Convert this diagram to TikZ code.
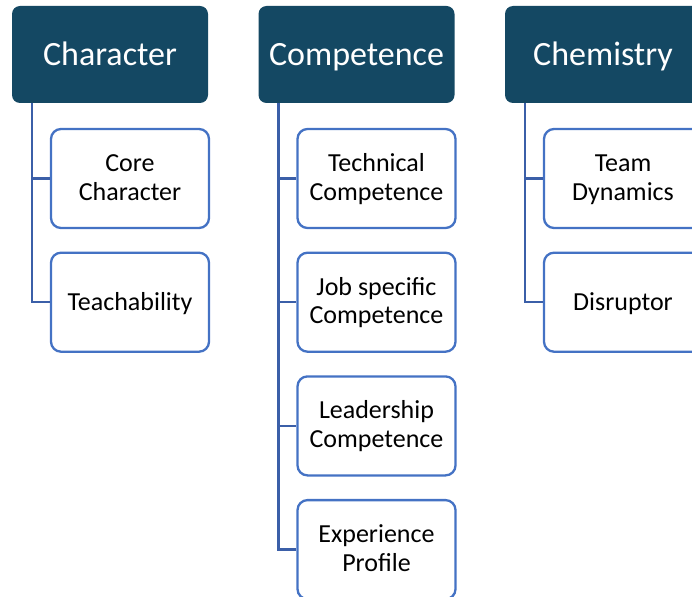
\documentclass[tikz,border=0pt]{standalone}
\usepackage{fontspec}
\setmainfont{Carlito}
\definecolor{headfill}{RGB}{20,72,99}
\definecolor{boxline}{RGB}{68,114,196}
\definecolor{linkline}{RGB}{59,95,168}
\tikzset{
  head/.style={
    rectangle, rounded corners=8pt, fill=headfill, text=white,
    minimum width=196pt, minimum height=97pt,
    text height=22pt, text depth=0pt,
    font=\fontsize{34}{40}\selectfont
  },
  item/.style={
    rectangle, rounded corners=10pt, draw=boxline, line width=2.3pt,
    fill=white, text=black, align=center,
    minimum width=158pt, minimum height=99pt,
    text height=16pt, text depth=0pt,
    font=\fontsize{26}{28.5}\selectfont
  },
  twoline/.style={text height=43pt, text depth=0pt},
  link/.style={draw=linkline, line width=2.4pt}
}

\begin{document}
\begin{tikzpicture}[x=1pt,y=-1pt]
\newcommand{\colsep}{246.5}
\newcommand{\rowsep}{123.7}
\newcommand{\topy}{54.5}
\newcommand{\firsty}{178.5}

\useasboundingbox (0,0) rectangle (692,596);
\clip (0,0) rectangle (692,596);

% column heads
\node [head] (char) at (110,\topy) {Character};
\node [head] (comp) at (110+\colsep,\topy) {Competence};
\node [head] (chem) at (110+2*\colsep,\topy) {Chemistry};

% stems under the heads
\coordinate (charstem) at (32,103);
\coordinate (compstem) at (32+\colsep,103);
\coordinate (chemstem) at (32+2*\colsep,103);

% child boxes
\node [item,twoline] (char1) at (130,\firsty) {Core\\Character};
\node [item] (char2) at (130,\firsty+\rowsep) {Teachability};

\node [item,twoline] (comp1) at (130+\colsep,\firsty) {Technical\\Competence};
\node [item,twoline] (comp2) at (130+\colsep,\firsty+\rowsep) {Job specific\\Competence};
\node [item,twoline] (comp3) at (130+\colsep,\firsty+2*\rowsep) {Leadership\\Competence};
\node [item,twoline] (comp4) at (130+\colsep,\firsty+3*\rowsep) {Experience\\Profile};

\node [item,twoline] (chem1) at (130+2*\colsep,\firsty) {Team\\Dynamics};
\node [item] (chem2) at (130+2*\colsep,\firsty+\rowsep) {Disruptor};

% connectors
\draw [link] (charstem) |- (char2.west);
\draw [link] (charstem |- char1.west) -- (char1.west);

\draw [link] (compstem) |- (comp4.west);
\foreach \k in {1,2,3}
  \draw [link] (compstem |- comp\k.west) -- (comp\k.west);

\draw [link] (chemstem) |- (chem2.west);
\draw [link] (chemstem |- chem1.west) -- (chem1.west);
\end{tikzpicture}
\end{document}
